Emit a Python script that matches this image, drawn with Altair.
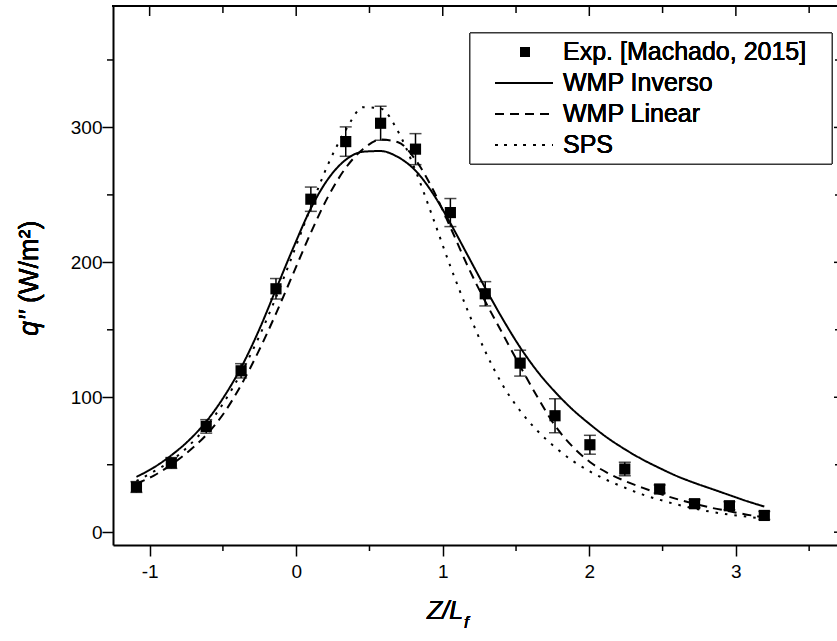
import altair as alt
import pandas as pd

# ---------------- data ----------------
z_exp = [-1.090, -0.852, -0.614, -0.376, -0.138, 0.100, 0.338, 0.576, 0.814, 1.052,
         1.290, 1.528, 1.766, 2.004, 2.242, 2.480, 2.718, 2.956, 3.194]
q_exp = [33.5, 51.3, 78.4, 119.6, 180.4, 246.8, 289.5, 303.1, 283.9, 236.9,
         176.7, 125.3, 86.3, 64.8, 46.8, 32.0, 21.1, 19.6, 12.4]
err_exp = [4.0, 4.0, 5.0, 5.3, 7.6, 9.0, 10.9, 12.6, 11.5, 10.4,
           9.0, 9.6, 12.6, 7.0, 5.0, 3.0, 3.0, 3.0, 3.0]

z_model = [-1.090, -0.971, -0.852, -0.733, -0.614, -0.495, -0.376, -0.257, -0.138, -0.019,
           0.100, 0.219, 0.338, 0.457, 0.576, 0.695, 0.814, 0.933, 1.052, 1.171,
           1.290, 1.409, 1.528, 1.647, 1.766, 1.885, 2.004, 2.123, 2.242, 2.361,
           2.480, 2.599, 2.718, 2.837, 2.956, 3.075, 3.194]
q_inverso = [41, 48, 57, 68, 82, 100, 122, 149, 180, 211,
             240, 262, 276, 282, 282.5, 278, 268, 251, 229, 205,
             181, 158, 137, 119, 104, 91, 80, 70, 61.5, 54,
             47.5, 41.5, 36.5, 32, 27.5, 23, 19]
q_linear = [36, 42, 50, 60, 72, 88, 109, 134, 162, 192,
            222, 249, 270, 284, 291, 289, 276, 254, 226, 197,
            171, 147, 123, 100, 79, 63.5, 52, 44, 38, 33,
            28.5, 24.5, 21, 18, 15.5, 13, 11]
q_sps = [38, 45, 53, 64, 78, 96, 118, 144, 174, 207,
         241, 273, 298, 315, 314, 297, 268, 233, 197, 164,
         134, 109, 90, 75, 63, 53, 45, 38.5, 33, 28,
         24, 20.5, 17.5, 15, 13, 11.5, 10]

series_names = ["WMP Inverso", "WMP Linear", "SPS"]
legend_labels = ["Exp. [Machado, 2015]", "WMP Inverso", "WMP Linear", "SPS"]

x_major = [-1, 0, 1, 2, 3]
x_minor = [-0.5, 0.5, 1.5, 2.5, 3.5]
y_major = [0, 100, 200, 300]
y_minor = [50, 150, 250, 350]

# ---------------- tables ----------------
exp_df = pd.DataFrame({"z": z_exp, "q": q_exp, "e": err_exp})
exp_df["lo"] = exp_df["q"] - exp_df["e"]
exp_df["hi"] = exp_df["q"] + exp_df["e"]

rows = []
for name, vals in zip(series_names, [q_inverso, q_linear, q_sps]):
    for z, q in zip(z_model, vals):
        rows.append({"z": z, "q": q, "series": name})
lines_df = pd.DataFrame(rows)

W, H = 724, 539
FONT = "Liberation Sans"

xscale = alt.Scale(domain=[-1.25, 3.69], nice=False, zero=False)
yscale = alt.Scale(domain=[-9.5, 390], nice=False, zero=False)

xaxis = alt.Axis(values=x_major, tickSize=11, tickWidth=1.5, domainWidth=2,
                 domainColor="black", tickColor="black", labelColor="black",
                 labelFont=FONT, labelFontSize=19, labelFontWeight="normal",
                 labelPadding=6, grid=False, title=None, labelExpr="'' + datum.value")
yaxis = alt.Axis(values=y_major, tickSize=11, tickWidth=1.5, domainWidth=2,
                 domainColor="black", tickColor="black", labelColor="black",
                 labelFont=FONT, labelFontSize=19, labelFontWeight="normal",
                 labelPadding=0, grid=False, title=None, labelExpr="'' + datum.value")

X = lambda f: alt.X(f, scale=xscale, axis=xaxis)
Y = lambda f: alt.Y(f, scale=yscale, axis=yaxis)

dash = alt.StrokeDash("series:N",
                      scale=alt.Scale(domain=series_names, range=[[1, 0], [9, 6], [2.5, 7]]),
                      legend=None)

lines = alt.Chart(lines_df).mark_line(color="black", strokeWidth=2, interpolate="monotone").encode(
    x=X("z:Q"), y=Y("q:Q"), strokeDash=dash, detail="series:N")

err_rule = alt.Chart(exp_df).mark_rule(color="black", strokeWidth=1.5).encode(
    x=X("z:Q"), y=Y("lo:Q"), y2="hi:Q")
cap_lo = alt.Chart(exp_df).mark_tick(color="black", orient="horizontal", size=12, thickness=1.5).encode(
    x=X("z:Q"), y=Y("lo:Q"))
cap_hi = alt.Chart(exp_df).mark_tick(color="black", orient="horizontal", size=12, thickness=1.5).encode(
    x=X("z:Q"), y=Y("hi:Q"))
squares = alt.Chart(exp_df).mark_square(color="black", size=125, opacity=1).encode(
    x=X("z:Q"), y=Y("q:Q"))

# frame & mirrored/minor ticks
xmaj_df = pd.DataFrame({"v": x_major})
xmin_df = pd.DataFrame({"v": x_minor})
ymaj_df = pd.DataFrame({"v": y_major})
ymin_df = pd.DataFrame({"v": y_minor})

top_line = alt.Chart(xmaj_df).mark_rule(color="black", strokeWidth=2).encode(
    x=alt.value(-1), x2=alt.value(W + 5), y=alt.value(0))
top_major = alt.Chart(xmaj_df).mark_rule(color="black", strokeWidth=1.5).encode(
    x=X("v:Q"), y=alt.value(0), y2=alt.value(10))
top_minor = alt.Chart(xmin_df).mark_rule(color="black", strokeWidth=1.5).encode(
    x=X("v:Q"), y=alt.value(0), y2=alt.value(7))
bot_minor = alt.Chart(xmin_df).mark_rule(color="black", strokeWidth=1.5).encode(
    x=X("v:Q"), y=alt.value(H), y2=alt.value(H + 6))
left_minor = alt.Chart(ymin_df).mark_rule(color="black", strokeWidth=1.5).encode(
    y=Y("v:Q"), x=alt.value(0), x2=alt.value(-6))
right_major = alt.Chart(ymaj_df).mark_rule(color="black", strokeWidth=1.5).encode(
    y=Y("v:Q"), x=alt.value(W + 8), x2=alt.value(W - 3))
right_minor = alt.Chart(ymin_df).mark_rule(color="black", strokeWidth=1.5).encode(
    y=Y("v:Q"), x=alt.value(W + 8), x2=alt.value(W - 2))

# axis titles
xt1 = alt.Chart(xmaj_df).mark_text(text="Z/L", font=FONT, fontSize=25, fontStyle="italic",
                                   align="left", baseline="alphabetic", color="black").encode(
    x=alt.value(314), y=alt.value(613))
xt2 = alt.Chart(xmaj_df).mark_text(text="f", font=FONT, fontSize=17, fontStyle="italic",
                                   align="left", baseline="alphabetic", color="black").encode(
    x=alt.value(351), y=alt.value(622))
yt1 = alt.Chart(xmaj_df).mark_text(text="q''", font=FONT, fontSize=27, fontStyle="italic",
                                   align="left", baseline="middle", angle=270, color="black").encode(
    x=alt.value(-83), y=alt.value(330))
yt2 = alt.Chart(xmaj_df).mark_text(text="(W/m²)", font=FONT, fontSize=27,
                                   align="left", baseline="middle", angle=270, color="black").encode(
    x=alt.value(-83), y=alt.value(297))

# legend
box = alt.Chart(xmaj_df).mark_rect(fill="white", stroke="#333333", strokeWidth=1).encode(
    x=alt.value(357), x2=alt.value(719), y=alt.value(27), y2=alt.value(158))
row_y = [46, 77, 108, 139]
leg = [box]
leg.append(alt.Chart(xmaj_df).mark_square(color="black", size=100, opacity=1).encode(
    x=alt.value(412), y=alt.value(row_y[0])))
for i, d in enumerate([[1, 0], [9, 6], [2.5, 7]]):
    leg.append(alt.Chart(xmaj_df).mark_rule(color="black", strokeWidth=2, strokeDash=d).encode(
        x=alt.value(382), x2=alt.value(440), y=alt.value(row_y[i + 1])))
for i, lab in enumerate(legend_labels):
    leg.append(alt.Chart(xmaj_df).mark_text(text=lab, font=FONT, fontSize=25, align="left",
                                            baseline="middle", color="black").encode(
        x=alt.value(450), y=alt.value(row_y[i])))

chart = alt.layer(
    lines, err_rule, cap_lo, cap_hi, squares,
    top_line, top_major, top_minor, bot_minor, left_minor, right_major, right_minor,
    xt1, xt2, yt1, yt2, *leg
).properties(
    width=W, height=H,
    autosize=alt.AutoSizeParams(type="none"),
    padding={"left": 113, "top": 6, "right": 0, "bottom": 96},
    background="white",
).configure_view(stroke=None)

chart.save("out.html", embed_options={"renderer": "svg", "actions": False})
